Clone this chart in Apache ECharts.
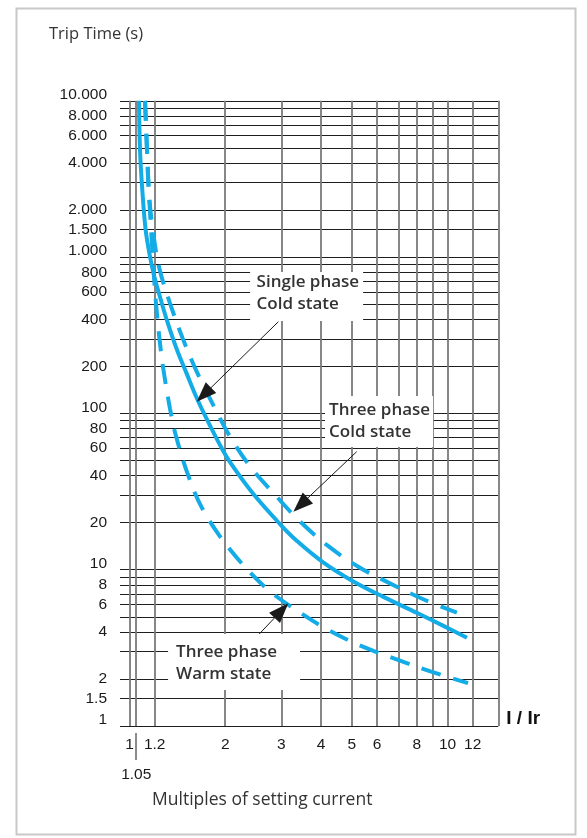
<!DOCTYPE html>
<html><head><meta charset="utf-8">
<script src="https://cdn.jsdelivr.net/npm/echarts@6/dist/echarts.min.js"></script>
<style>html,body{margin:0;padding:0;background:#fff}#c{width:587px;height:838px}</style>
</head><body><div id="c"></div>
<script>
// ---- data ----
const singlePhaseCold = [[1.071,10000],[1.079,4850],[1.097,2690],[1.124,1490],[1.16,1006],[1.197,750],[1.247,556],[1.309,398],[1.406,259],[1.514,179],[1.626,126],[1.75,91.8],[1.928,62.4],[2.07,48.8],[2.449,30.6],[2.972,19.6],[3.357,15.3],[4.074,11.1],[5.058,8.41],[6.281,6.7],[8.0,5.3],[9.705,4.37],[11.51,3.67]];
const threePhaseCold = [[1.119,10000],[1.135,4845],[1.152,2497],[1.188,1420],[1.241,848],[1.341,506],[1.47,302],[1.627,185],[1.834,113],[2.07,71],[2.42,44.5],[2.87,30.1],[3.40,20.8],[4.17,14.4],[5.24,10.45],[6.59,8.18],[8.39,6.47],[10.7,5.31]];
const threePhaseWarm = [[1.119,10000],[1.135,4842],[1.152,2495],[1.175,1259],[1.199,661],[1.222,417],[1.245,288],[1.277,193],[1.341,107],[1.398,72.4],[1.513,42.7],[1.666,26.3],[1.915,16.6],[2.266,10.84],[2.733,7.41],[3.396,5.4],[4.22,4.11],[5.37,3.24],[6.88,2.68],[8.88,2.23],[11.6,1.88]];
const xGridValues = [1,1.05,1.2,2,3,4,5,6,7,8,9,10,12,14.44];
const xTickLabels = [1,1.2,2,3,4,5,6,8,10,12];
const xExtraLabel = [1.05];
const yGridValues = [1,1.5,2,3,4,5,6,7,8,9,10,20,30,40,50,60,70,80,90,100,200,300,400,500,600,700,800,900,1000,1500,2000,3000,4000,5000,6000,7000,8000,9000,10000];
const yTickLabels = [1,1.5,2,4,6,8,10,20,40,60,80,100,200,400,600,800,1000,1500,2000,4000,6000,8000,10000];
const annotationTexts = ['Single phase\nCold state', 'Three phase\nCold state', 'Three phase\nWarm state'];

// annotation anchors (data coordinates) and styles
const annotationLayout = [
  {at:[3.604,560], arrowFrom:[2.938,386], arrowTo:[1.713,131.7], size:[113,49], offset:[-50,-3]},
  {at:[6.09,88.8], arrowFrom:[5.18,56.9], arrowTo:[3.452,26.0], size:[108,51], offset:[-50,0]},
  {at:[2.132,2.568], arrowFrom:[2.512,3.727], arrowTo:[3.004,5.474], size:[132,56], offset:[-58,1]}
];

const BLUE = '#14ace6';
const LABEL_FONT = 'Liberation Sans, Arial, sans-serif';
const TEXT_FONT = 'Open Sans, Noto Sans, sans-serif';

function fmtY(v){
  if (v >= 1000) return String(Math.round(v)).replace(/\B(?=(\d{3})+(?!\d))/g,'.');
  return String(v);
}
const isDecade = v => [1,10,100,1000,10000].indexOf(Math.round(v*1000)/1000) >= 0;

const chart = echarts.init(document.getElementById('c'), null, {renderer:'canvas'});
chart.setOption({
  animation:false,
  backgroundColor:'#fff',
  title:[
    {text:'Trip Time (s)', left:49, top:26, padding:0, textStyle:{fontFamily:TEXT_FONT, fontSize:16.5, fontWeight:'normal', color:'#333'}},
    {text:'Multiples of setting current', left:152, top:791, padding:0, textStyle:{fontFamily:TEXT_FONT, fontSize:17.5, fontWeight:'normal', color:'#333'}}
  ],
  graphic:[{type:'rect', left:14, top:6, shape:{width:559, height:826}, style:{fill:'none', stroke:'#c8c8c8', lineWidth:2}, silent:true, z:-1}],
  grid:{left:120, right:88.7, top:100.8, bottom:112},
  xAxis:[{
    type:'log', logBase:10, min:0.9335, max:14.44,
    name:'I / Ir', nameLocation:'end', nameGap:8,
    nameTextStyle:{fontFamily:LABEL_FONT, fontSize:19, fontWeight:'bold', color:'#111', verticalAlign:'bottom', padding:[0,0,-2,0]},
    axisLine:{show:false},
    axisTick:{show:false, customValues:xGridValues},
    splitLine:{show:true, lineStyle:{color:'#7a7a7a', width:1.8}},
    axisLabel:{customValues:xTickLabels, margin:11, fontFamily:LABEL_FONT, fontSize:15.5, color:'#1a1a1a', formatter:v=>String(v)}
  },{
    type:'log', logBase:10, min:0.9335, max:14.44, position:'bottom', offset:7,
    axisLine:{show:false},
    axisTick:{show:true, customValues:xExtraLabel, length:27, lineStyle:{color:'#666', width:1.5}},
    splitLine:{show:false},
    axisLabel:{customValues:xExtraLabel, margin:34, fontFamily:LABEL_FONT, fontSize:15.5, color:'#1a1a1a', formatter:v=>String(v)}
  }],
  yAxis:[{
    type:'log', logBase:10, min:1, max:10000,
    axisLine:{show:false},
    axisTick:{show:false, customValues:yGridValues},
    splitLine:{show:true, lineStyle:{color:'#1e1e1e', width:1.2}},
    axisLabel:{customValues:yTickLabels, margin:13, fontFamily:LABEL_FONT, fontSize:15.5, color:'#1a1a1a',
      formatter:v=> isDecade(v) ? '{u|'+fmtY(v)+'}' : fmtY(v),
      rich:{u:{padding:[0,0,12,0], fontFamily:LABEL_FONT, fontSize:15.5, color:'#1a1a1a'}}}
  }],
  series:[
    {type:'line', name:'Single phase cold state', data:singlePhaseCold, smooth:0.35, symbol:'none',
     lineStyle:{color:BLUE, width:4}, z:3,
     markPoint:{silent:true, symbol:'rect', animation:false,
       data: annotationLayout.map((a,i)=>({coord:a.at, symbolSize:a.size, itemStyle:{color:'#fff'},
         label:{show:true, position:'inside', formatter:annotationTexts[i], align:'left', verticalAlign:'middle', offset:a.offset,
           fontFamily:TEXT_FONT, fontSize:17, fontWeight:600, color:'#333', lineHeight:22}}))},
     markLine:{silent:true, animation:false, symbol:['none','triangle'], symbolSize:[15,20],
       lineStyle:{color:'#1a1a1a', width:1, type:'solid'}, label:{show:false},
       data: annotationLayout.map(a=>[{coord:a.arrowFrom},{coord:a.arrowTo}])}
    },
    {type:'line', name:'Three phase cold state', data:threePhaseCold, smooth:0.35, symbol:'none',
     lineStyle:{color:BLUE, width:4, type:[20,13]}, z:3},
    {type:'line', name:'Three phase warm state', data:threePhaseWarm, smooth:0.35, symbol:'none',
     lineStyle:{color:BLUE, width:4, type:[20,13]}, z:3}
  ]
});
</script>
</body></html>
